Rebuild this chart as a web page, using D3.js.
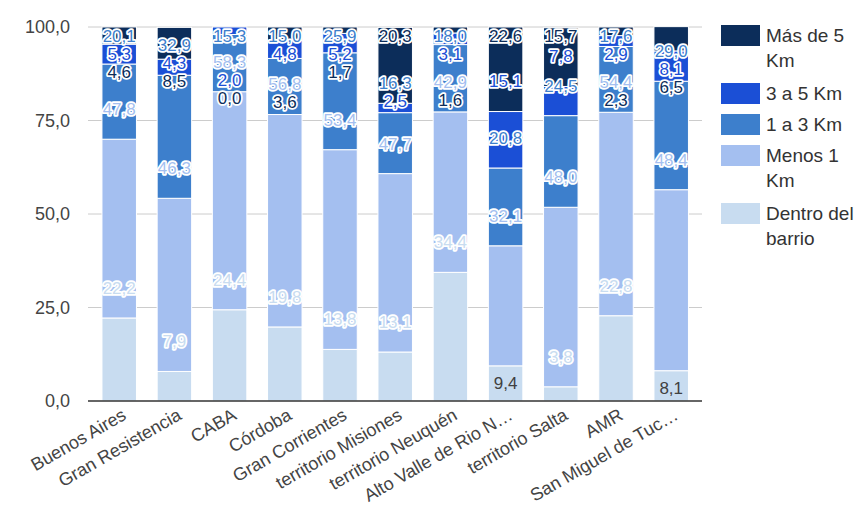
<!DOCTYPE html>
<html><head><meta charset="utf-8">
<script src="https://cdn.jsdelivr.net/npm/d3@7"></script>
<style>body{margin:0;background:#fff}svg{display:block;font-family:"Liberation Sans",Arial,sans-serif}</style>
</head><body><svg id="c" width="866" height="518"></svg>
<script>
const categories = ["Buenos Aires","Gran Resistencia","CABA","Córdoba","Gran Corrientes","territorio Misiones","territorio Neuquén","Alto Valle de Rio N…","territorio Salta","AMR","San Miguel de Tuc…"];
const seriesNames = ["Dentro del barrio","Menos 1 Km","1 a 3 Km","3 a 5 Km","Más de 5 Km"];
const dentro = [22.2, 7.9, 24.4, 19.8, 13.8, 13.1, 34.4, 9.4, 3.8, 22.8, 8.1];
const menos1 = [47.8, 46.3, 58.3, 56.8, 53.4, 47.7, 42.9, 32.1, 48.0, 54.4, 48.4];
const km1a3  = [20.1, 32.9, 15.3, 15.0, 25.9, 16.3, 18.0, 20.8, 24.5, 17.6, 29.0];
const km3a5  = [5.3, 4.3, 2.0, 4.8, 5.2, 2.5, 3.1, 15.1, 7.8, 2.9, 8.1];
const mas5   = [4.6, 8.5, 0.0, 3.6, 1.7, 20.3, 1.6, 22.6, 15.7, 2.3, 6.5];
const yTicks = [0, 25, 50, 75, 100];
const colors = ["#c8dcf0","#a4bff0","#3d7fcc","#1b4fd6","#0c2d5a"];

const seriesVals = [dentro, menos1, km1a3, km3a5, mas5];
const rows = categories.map((c,i)=>{const r={cat:c}; seriesNames.forEach((s,j)=>r[s]=seriesVals[j][i]); return r;});
const stacked = d3.stack().keys(seriesNames)(rows);

const svg = d3.select("#c");
const x = d3.scaleBand().domain(categories).range([91.6, 698.8]).paddingInner(0.375).paddingOuter(0.1875);
const y = d3.scaleLinear().domain([0,100]).range([401,27]);
const fmt = v => d3.format(".1f")(v).replace(".", ",");

// gridlines
svg.append("g").selectAll("line").data(yTicks.filter(t=>t>0)).join("line")
  .attr("x1",88).attr("x2",702).attr("y1",d=>y(d)).attr("y2",d=>y(d))
  .attr("stroke","#cccccc").attr("stroke-width",1);

// y tick labels
svg.append("g").selectAll("text").data(yTicks).join("text")
  .attr("x",70).attr("y",d=>y(d)).attr("dy","0.35em").attr("text-anchor","end")
  .attr("font-size",18).attr("fill","#444").text(d=>fmt(d));

// bars
svg.append("g").selectAll("g").data(stacked).join("g")
  .attr("fill",(d,i)=>colors[i])
  .selectAll("rect").data(d=>d).join("rect")
  .attr("x",d=>x(d.data.cat)).attr("width",x.bandwidth())
  .attr("y",d=>y(d[1])).attr("height",d=>Math.max(0,y(d[0])-y(d[1])))
  .attr("stroke","#fff").attr("stroke-width",1);

// baseline
svg.append("line").attr("x1",88).attr("x2",702).attr("y1",y(0)).attr("y2",y(0))
  .attr("stroke","#333").attr("stroke-width",1.5);

// annotations
const gap = 18, minY = 36;
const ann = svg.append("g").attr("font-size",17);
categories.forEach((c,i)=>{
  const placed=[];
  stacked.forEach((s,j)=>{
    const seg = s[i];
    const topPx = y(seg[1]), h = y(seg[0]) - y(seg[1]);
    if (j===0 && h>=30 && h<40) {
      ann.append("text").attr("x",x(c)+x.bandwidth()/2).attr("y",topPx+17).attr("dy","0.35em")
        .attr("text-anchor","middle").attr("fill","#404040").text(fmt(seriesVals[j][i]));
      return;
    }
    let yy = Math.max(topPx-30, minY);
    let moved=true;
    while(moved){moved=false; for(const p of placed){ if(Math.abs(yy-p)<gap){ yy=p+gap; moved=true; } }}
    placed.push(yy);
    ann.append("text").attr("x",x(c)+x.bandwidth()/2).attr("y",yy).attr("dy","0.35em")
      .attr("text-anchor","middle").attr("fill",colors[j])
      .attr("stroke","#fff").attr("stroke-width",3.5).attr("stroke-linejoin","round")
      .attr("paint-order","stroke").text(fmt(seriesVals[j][i]));
  });
});

// x labels
svg.append("g").selectAll("text").data(categories).join("text")
  .attr("transform",d=>`translate(${x(d)+x.bandwidth()/2+5},${413}) rotate(-30)`)
  .attr("text-anchor","end").attr("dy","0.35em").attr("font-size",18).attr("fill","#444").text(d=>d);

// legend
const lg = svg.append("g");
let ly = 25;
seriesNames.slice().reverse().forEach((name,k)=>{
  const j = seriesNames.length-1-k;
  lg.append("rect").attr("x",721).attr("y",ly).attr("width",39).attr("height",21).attr("fill",colors[j]);
  const t = lg.append("text").attr("x",766).attr("font-size",19).attr("fill","#333");
  const words = name.split(" ");
  let lines=[], cur="";
  const probe = lg.append("text").attr("font-size",19).attr("visibility","hidden");
  words.forEach(w=>{const test=cur?cur+" "+w:w; probe.text(test); if(probe.node().getComputedTextLength()>98 && cur){lines.push(cur);cur=w;} else cur=test;});
  lines.push(cur); probe.remove();
  lines.forEach((ln,li)=>t.append("tspan").attr("x",766).attr("y",ly+17+li*25).text(ln));
  ly += lines.length===1 ? 31 : 58;
});
</script></body></html>
